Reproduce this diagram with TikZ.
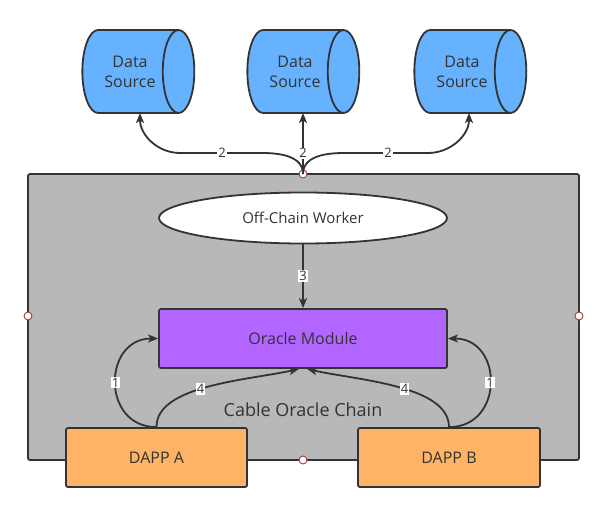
\documentclass[tikz,border=0pt]{standalone}
\usepackage{fontspec}
\setmainfont{Open Sans}
\usetikzlibrary{shapes.geometric,arrows.meta}
\definecolor{ink}{RGB}{51,51,51}
\definecolor{dsblue}{RGB}{102,178,255}
\definecolor{ompurple}{RGB}{178,102,255}
\definecolor{dapporange}{RGB}{255,179,102}
\definecolor{chaingray}{RGB}{184,184,184}
\definecolor{dotred}{RGB}{170,60,60}
\begin{document}
\begin{tikzpicture}[x=1pt,y=-1pt,
  arr/.style={draw=ink, line width=1.8pt, -{Stealth[length=10pt,width=8pt,inset=2.5pt]}},
  lbl/.style={fill=white, inner sep=1pt, font=\fontsize{13}{13}\selectfont, text=ink},
  dsbox/.style={cylinder, shape aspect=1.0, draw=ink, line width=1.8pt, fill=dsblue,
    minimum width=83pt, minimum height=112pt, inner sep=0pt, align=center, text=ink,
    font=\fontsize{16}{20}\selectfont},
  recbox/.style={rectangle, rounded corners=2pt, draw=ink, line width=1.8pt, text=ink,
    font=\fontsize{16}{20}\selectfont},
  dot/.style={circle, draw=dotred, fill=white, line width=0.9pt, inner sep=0pt, minimum size=8pt}]
\useasboundingbox (0,0) rectangle (608,514);
% container
\node[recbox, fill=chaingray, minimum width=551pt, minimum height=286pt] (chain) at (303.5,317) {};
\node[text=ink, font=\fontsize{18}{20}\selectfont] (chainlbl) at (303,410) {Cable Oracle Chain};
% data sources
\node[dsbox] (ds1) at (130,71.5) {Data\\Source};
\node[dsbox] (ds2) at (295,71.5) {Data\\Source};
\node[dsbox] (ds3) at (462,71.5) {Data\\Source};
% worker
\node[ellipse, draw=ink, line width=1.8pt, fill=white, minimum width=288pt, minimum height=51pt,
  text=ink, font=\fontsize{15}{18}\selectfont] (ow) at (303,218) {Off-Chain Worker};
% oracle module
\node[recbox, fill=ompurple, minimum width=288pt, minimum height=59pt] (om) at (303,338.5) {Oracle Module};
% dapps
\node[recbox, fill=dapporange, minimum width=181pt, minimum height=59pt] (da) at (156.5,457.5) {DAPP A};
\node[recbox, fill=dapporange, minimum width=182pt, minimum height=59pt] (db) at (449,457.5) {DAPP B};
% dots
\node[dot] (dtop) at (303,174) {};
\node[dot] (dleft) at (28,316) {};
\node[dot] (dright) at (579,316) {};
\node[dot] (dbot) at (303,460) {};
% arrows to data sources
\coordinate (l1) at (262,153);
\coordinate (l2) at (180,153);
\coordinate (r1) at (344,153);
\coordinate (r2) at (428,153);
\coordinate (e1) at (140,113);
\coordinate (e2) at (303,113);
\coordinate (e3) at (469,113);
\draw[arr] (dtop.center) to[out=90,in=0] (l1) -- (l2) to[out=180,in=-90] (e1);
\node[lbl] (n2a) at (222,153) {2};
\draw[arr] (dtop.center) -- node[lbl, pos=0.34] (n2b) {2} (e2);
\draw[arr] (dtop.center) to[out=90,in=180] (r1) -- (r2) to[out=0,in=-90] (e3);
\node[lbl] (n2c) at (388,153) {2};
% worker to oracle
\draw[arr] (ow.south) -- node[lbl] (n3) {3} (om.north);
% dapp arrows
\draw[arr] (da.north) to[out=180,in=180,looseness=1.6] node[lbl] (n1a) {1} (om.west);
\draw[arr] (da.north) .. controls (156,385) and (250,380) .. node[lbl, pos=0.45] (n4a) {4} ([xshift=-4pt]om.south);
\draw[arr] (db.north) to[out=0,in=0,looseness=1.6] node[lbl] (n1b) {1} (om.east);
\draw[arr] (db.north) .. controls (449,385) and (355,380) .. node[lbl, pos=0.45] (n4b) {4} ([xshift=4pt]om.south);
\end{tikzpicture}
\end{document}
